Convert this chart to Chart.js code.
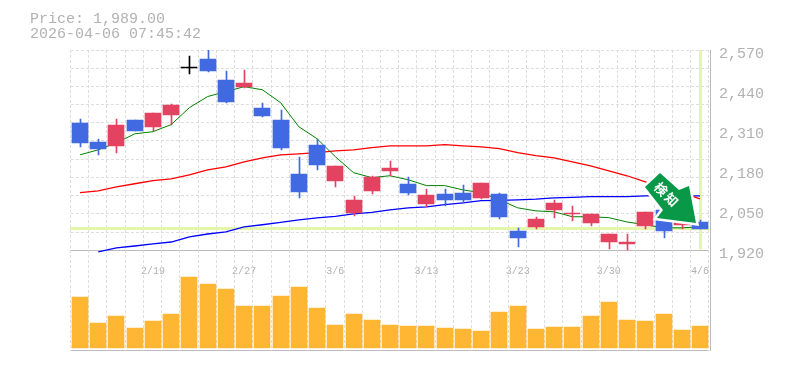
<!DOCTYPE html>
<html lang="ja">
<head>
  <meta charset="UTF-8">
  <title>Price chart</title>
  <script src="https://cdn.jsdelivr.net/npm/chart.js"></script>
  <style>
    html, body { margin:0; padding:0; background:#fff; }
    canvas { display:block; }
  </style>
</head>
<body>
<canvas id="chart" width="785" height="370"></canvas>

<script>
// Data
const categories = ['2/13','2/16','2/17','2/18','2/19','2/20','2/24','2/25','2/26','2/27','3/2','3/3','3/4','3/5','3/6','3/9','3/10','3/11','3/12','3/13','3/16','3/17','3/18','3/19','3/23','3/24','3/25','3/26','3/27','3/30','3/31','4/1','4/2','4/3','4/6'];
const opens  = [2334,2272,2260,2344,2321,2360,2510,2542,2474,2451,2383,2344,2168,2263,2146,2042,2113,2178,2136,2071,2104,2107,2090,2104,1983,1996,2051,2038,2009,1948,1941,2000,2051,2003,2012];
const highs  = [2347,2282,2347,2344,2364,2396,2552,2570,2503,2506,2399,2376,2224,2282,2194,2097,2162,2211,2159,2120,2120,2133,2139,2107,1993,2029,2084,2064,2038,1974,1974,2045,2051,2022,2019];
const lows   = [2256,2230,2237,2308,2308,2328,2493,2500,2399,2448,2354,2246,2090,2181,2126,2032,2104,2162,2100,2061,2064,2074,2087,2022,1931,1990,2026,2016,2000,1925,1920,1990,1960,1990,1989];
const closes = [2269,2250,2328,2308,2364,2390,2510,2503,2402,2464,2357,2253,2110,2198,2194,2084,2159,2188,2107,2100,2084,2084,2139,2029,1960,2022,2074,2042,2038,1974,1948,2045,1983,2022,1989];
const maShort = [2230,2246,2269,2298,2305,2328,2383,2419,2435,2451,2441,2399,2321,2282,2224,2172,2156,2162,2149,2130,2130,2116,2107,2084,2058,2048,2045,2029,2029,2026,2012,2003,1993,1993,1996];
const maMid   = [2107,2113,2126,2136,2146,2152,2165,2181,2191,2207,2220,2230,2233,2237,2243,2246,2253,2259,2259,2259,2263,2259,2256,2250,2237,2227,2220,2207,2194,2178,2162,2142,2123,2107,2087];
const maLong  = [null,1915,1928,1934,1941,1947,1964,1973,1980,1996,2003,2011,2019,2025,2030,2038,2043,2051,2058,2061,2068,2074,2081,2082,2084,2086,2090,2092,2094,2094,2094,2097,2097,2097,2097];
const volumes = [51,25,32,20,27,34,71,64,59,42,42,52,61,40,23,34,28,23,22,22,20,19,17,36,42,19,21,21,32,46,28,27,34,18,22];
const tickLabels = ['2/19','2/27','3/6','3/13','3/23','3/30','4/6'];
const priceLabels = [1920,2050,2180,2310,2440,2570];
const gridLevels = [1920,1979,2038,2097,2156,2215,2275,2334,2393,2452,2511,2570];
const priceFloor = 1595;
const lastPrice = 1989;
const stamp = '2026-04-06 07:45:42';
const badgeText = '検知';

const MONO = '"Liberation Mono", monospace';
const GREY = '#bbbbbb', TEXT = '#b2b2b2', GRID = '#dddddd', PRICE_LINE = '#e4f6ac';
const UP = '#e34360', DOWN = '#4169e1', FLAT = '#000000';

function candleColor(ctx) {
  const i = ctx.dataIndex;
  if (opens[i] === closes[i]) return FLAT;
  return closes[i] > opens[i] ? UP : DOWN;
}

// Keep the bars on whole pixels, the original has no soft edges
const snapBars = {
  id: 'snapBars',
  afterDatasetsUpdate(chart) {
    chart.data.datasets.forEach((ds, n) => {
      if (ds.type !== 'bar') return;
      chart.getDatasetMeta(n).data.forEach(el => {
        el.x = Math.round(el.x) + (ds.label === 'wick' ? 0.5 : 0);
        el.y = Math.round(el.y);
        el.base = Math.round(el.base);
      });
    });
  }
};

// Vertical grid, frame and the two last price lines go under the marks
const backdrop = {
  id: 'backdrop',
  beforeDatasetsDraw(chart) {
    const { ctx, chartArea: a, scales: { x, y } } = chart;
    ctx.save();
    ctx.strokeStyle = GRID;
    ctx.lineWidth = 1;
    ctx.setLineDash([3, 2]);
    for (let i = 0; i <= categories.length; i++) {
      const px = Math.round(x.getPixelForValue(0) + i * (x.getPixelForValue(1) - x.getPixelForValue(0)) - 10) + 0.5;
      ctx.beginPath(); ctx.moveTo(px, a.top); ctx.lineTo(px, a.bottom); ctx.stroke();
    }
    ctx.setLineDash([]);
    ctx.strokeStyle = GREY;
    ctx.beginPath(); ctx.moveTo(710.5, a.top); ctx.lineTo(710.5, a.bottom + 0.5); ctx.stroke();
    ctx.strokeStyle = PRICE_LINE;
    ctx.lineWidth = 3;
    const py = Math.round(y.getPixelForValue(lastPrice)) - 0.5;
    ctx.beginPath(); ctx.moveTo(70, py); ctx.lineTo(a.right, py); ctx.stroke();
    const vx = Math.round(x.getPixelForValue(categories.length - 1)) + 0.5;
    ctx.beginPath(); ctx.moveTo(vx, a.top); ctx.lineTo(vx, y.getPixelForValue(1920) - 1); ctx.stroke();
    ctx.restore();
  }
};

// Header text and the green arrow go over everything
const overlay = {
  id: 'overlay',
  afterDatasetsDraw(chart) {
    const { ctx, scales: { x, y } } = chart;
    ctx.save();
    ctx.fillStyle = TEXT;
    ctx.font = '15px ' + MONO;
    ctx.textAlign = 'left';
    ctx.fillText('Price: ' + lastPrice.toLocaleString('en-US', { minimumFractionDigits: 2 }), 30, 23);
    ctx.fillText(stamp, 30, 38);

    const tx = x.getPixelForValue(categories.length - 1) - 4;
    const ty = y.getPixelForValue(lastPrice) - 6;
    const shape = [[-36,-50],[-17,-33],[-7,-37],[0,0],[-39,-5],[-33,-13],[-51,-36]];
    ctx.beginPath();
    shape.forEach((p, i) => i ? ctx.lineTo(tx + p[0], ty + p[1]) : ctx.moveTo(tx + p[0], ty + p[1]));
    ctx.closePath();
    ctx.strokeStyle = '#ffffff';
    ctx.lineWidth = 5;
    ctx.stroke();
    ctx.fillStyle = '#089848';
    ctx.fill();
    ctx.translate(tx - 29, ty - 28);
    ctx.rotate(Math.PI / 4);
    ctx.fillStyle = '#ffffff';
    ctx.font = 'bold 13px "Noto Sans CJK JP"';
    ctx.letterSpacing = '2px';
    ctx.textAlign = 'center';
    ctx.textBaseline = 'middle';
    ctx.fillText(badgeText, 0, 0);
    ctx.restore();
  }
};

new Chart(document.getElementById('chart'), {
  data: {
    labels: categories,
    datasets: [
      { type:'bar', label:'body', yAxisID:'y', order:1, grouped:false, barThickness:16, minBarLength:1, borderWidth:0,
        data: opens.map((o, i) => [o, closes[i]]), backgroundColor: candleColor },
      { type:'bar', label:'wick', yAxisID:'y', order:2, grouped:false, barThickness:1, borderWidth:0,
        data: lows.map((l, i) => [l, highs[i]]), backgroundColor: candleColor },
      { type:'bar', label:'volume', yAxisID:'yVol', order:3, grouped:false, barThickness:16, borderWidth:0,
        data: volumes, backgroundColor:'#ffb733' },
      { type:'line', label:'short', yAxisID:'y', order:4, data:maShort, borderColor:'#008000', borderWidth:1, pointRadius:0, tension:0 },
      { type:'line', label:'mid', yAxisID:'y', order:5, data:maMid, borderColor:'#ff0000', borderWidth:1.3, pointRadius:0, tension:0 },
      { type:'line', label:'long', yAxisID:'y', order:6, data:maLong, borderColor:'#0000ff', borderWidth:1.3, pointRadius:0, tension:0 }
    ]
  },
  options: {
    responsive: false,
    animation: false,
    layout: { padding: { left:70.9, top:50, bottom:19.5, right:0 } },
    plugins: { legend:{ display:false }, tooltip:{ enabled:false }, title:{ display:false } },
    scales: {
      x: {
        position: { y: 1920 },
        grid: { display:false },
        border: { display:false },
        ticks: {
          autoSkip:false, maxRotation:0, color:TEXT, padding:7,
          font: { family:MONO, size:10 },
          callback(v) { const s = this.getLabelForValue(v); return tickLabels.includes(s) ? s : ''; }
        }
      },
      y: {
        position: 'right',
        min: priceFloor,
        max: 2570,
        afterFit(s) { s.width = 75.9; },
        afterBuildTicks(s) {
          const vals = [...new Set([priceFloor, ...gridLevels, ...priceLabels])].sort((a, b) => a - b);
          s.ticks = vals.map(value => ({ value }));
        },
        grid: {
          drawTicks:false,
          color(c) {
            const v = c.tick.value;
            if (v === priceFloor || v === 1920) return GREY;
            return gridLevels.includes(v) ? GRID : 'rgba(0,0,0,0)';
          }
        },
        border: {
          display:false,
          dash(c) { const v = c.tick.value; return (v === priceFloor || v === 1920) ? [] : [3, 2]; }
        },
        ticks: {
          autoSkip:false, color:TEXT, padding:10, labelOffset:4,
          font: { family:MONO, size:15 },
          callback(v) { return priceLabels.includes(v) ? v.toLocaleString('en-US') : ''; }
        }
      },
      yVol: { display:false, min:-2, max:298 }
    }
  },
  plugins: [snapBars, backdrop, overlay]
});
</script>
</body>
</html>
